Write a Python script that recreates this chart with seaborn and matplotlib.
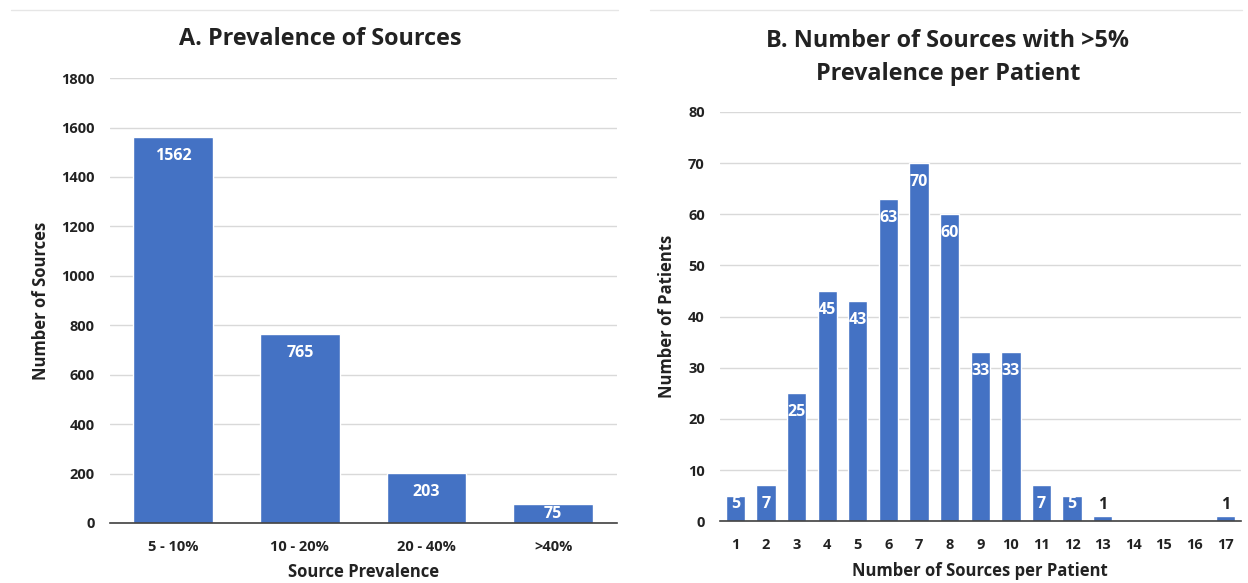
import matplotlib
matplotlib.use("Agg")
import matplotlib.pyplot as plt
import seaborn as sns
import pandas as pd

# panel A
prev_bins = ["5 - 10%", "10 - 20%", "20 - 40%", ">40%"]
prev_counts = [1562, 765, 203, 75]

# panel B
n_sources = [str(i) for i in range(1, 18)]
n_patients = [5, 7, 25, 45, 43, 63, 70, 60, 33, 33, 7, 5, 1, 0, 0, 0, 1]

BAR = "#4472C4"
GRID = "#d9d9d9"
TXT = "#222222"

sns.set_theme(style="white")
plt.rcParams["font.family"] = ["Open Sans", "DejaVu Sans"]
plt.rcParams["font.weight"] = "bold"

fig = plt.figure(figsize=(12.48, 5.83), dpi=100)
ax1 = fig.add_axes([0.088, 0.103, 0.406, 0.763])
ax2 = fig.add_axes([0.577, 0.106, 0.417, 0.702])


def style_axes(ax, yticks):
    ax.set_yticks(yticks)
    ax.set_ylim(yticks[0], yticks[-1])
    ax.yaxis.grid(True, color=GRID, linewidth=1)
    ax.set_axisbelow(True)
    for s in ["top", "right", "left"]:
        ax.spines[s].set_visible(False)
    ax.spines["bottom"].set_color("#404040")
    ax.spines["bottom"].set_linewidth(1.2)
    ax.tick_params(axis="both", length=0, labelsize=10.5, colors=TXT)
    ax.tick_params(axis="x", pad=12)
    ax.tick_params(axis="y", pad=11)
    for lab in ax.get_xticklabels() + ax.get_yticklabels():
        lab.set_fontweight("bold")


def label_bars(ax, values, fontsize, min_px):
    # value labels: white just inside the bar top, black above tiny bars
    y0, y1 = ax.get_ylim()
    per_px = (y1 - y0) / ax.get_window_extent().height
    for p, v in zip(ax.patches, values):
        if v == 0:
            continue
        xc = p.get_x() + p.get_width() / 2
        h = p.get_height()
        if v <= 2:
            ax.text(xc, h + 11 * per_px, str(v), ha="center", va="center",
                    color=TXT, fontsize=fontsize, fontweight="bold")
        else:
            yc = max(h - 19 * per_px, min_px * per_px)
            ax.text(xc, yc, str(v), ha="center", va="center",
                    color="white", fontsize=fontsize, fontweight="bold")


# A. prevalence of sources
df_a = pd.DataFrame({"bin": prev_bins, "count": prev_counts})
sns.barplot(data=df_a, x="bin", y="count", color=BAR, saturation=1,
            width=0.63, ax=ax1)
style_axes(ax1, list(range(0, 2000, 200)))
label_bars(ax1, prev_counts, 11.5, 9)
ax1.set_xlabel("Source Prevalence", fontsize=12, fontweight="bold",
               labelpad=7, color=TXT)
ax1.set_ylabel("Number of Sources", fontsize=12, fontweight="bold",
               labelpad=8, color=TXT)
fig.text(320 / 1248, 1 - 39 / 583, "A. Prevalence of Sources", fontsize=16.8,
         fontweight="bold", ha="center", va="center", color=TXT)

# B. sources per patient
df_b = pd.DataFrame({"n": n_sources, "patients": n_patients})
sns.barplot(data=df_b, x="n", y="patients", color=BAR, saturation=1,
            width=0.63, ax=ax2)
style_axes(ax2, list(range(0, 90, 10)))
label_bars(ax2, n_patients, 11.5, 17)
ax2.set_xlabel("Number of Sources per Patient", fontsize=12,
               fontweight="bold", labelpad=7, color=TXT)
ax2.set_ylabel("Number of Patients", fontsize=12, fontweight="bold",
               labelpad=9, color=TXT)
fig.text(948 / 1248, 1 - 41 / 583, "B. Number of Sources with >5%",
         fontsize=16.8, fontweight="bold", ha="center", va="center", color=TXT)
fig.text(948 / 1248, 1 - 74 / 583, "Prevalence per Patient",
         fontsize=16.8, fontweight="bold", ha="center", va="center", color=TXT)

# thin separator lines at top of each panel
fig.add_artist(plt.Line2D([0.009, 0.495], [0.983, 0.983], color="#e6e6e6",
                          linewidth=1))
fig.add_artist(plt.Line2D([0.521, 0.995], [0.983, 0.983], color="#e6e6e6",
                          linewidth=1))

fig.savefig("out.png", dpi=100)
